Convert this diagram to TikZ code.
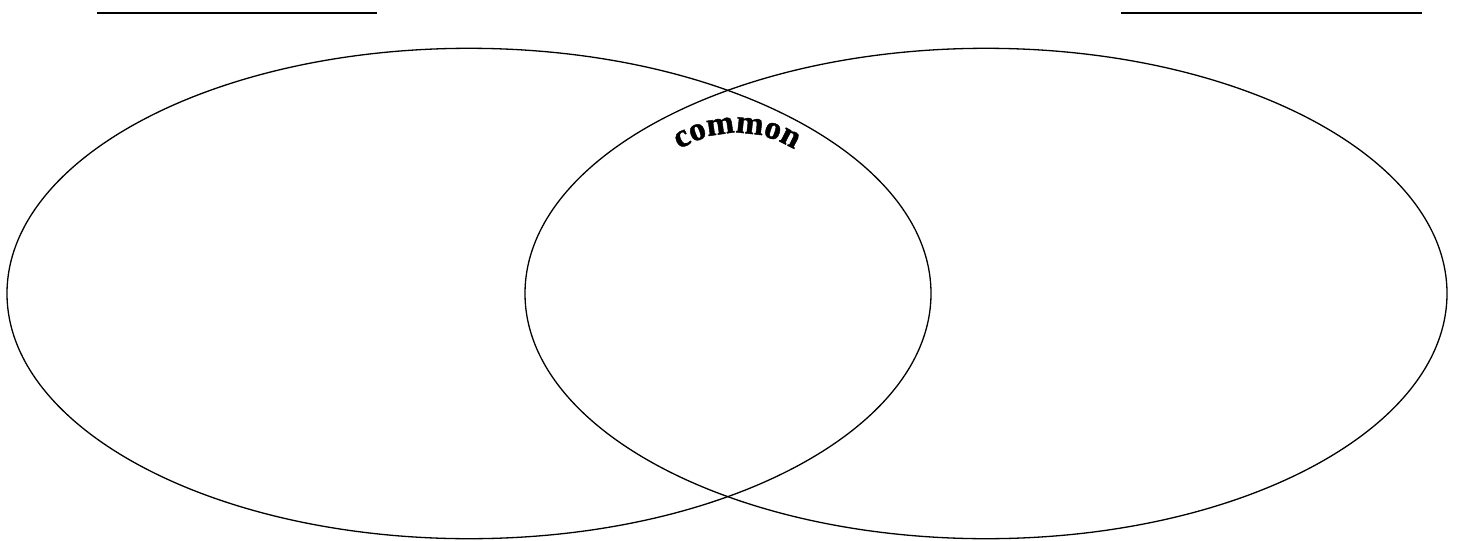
\documentclass[tikz,border=0pt]{standalone}
\usepackage{fontspec}
\setmainfont{Liberation Serif}
\newfontfamily\arcfont[FakeBold=1.3]{Liberation Serif}
\usetikzlibrary{decorations.text}
\begin{document}
\begin{tikzpicture}[x=1pt,y=1pt,
  setline/.style={line width=1.3pt, draw=black},
  nameline/.style={line width=1.8pt, draw=black}]
\useasboundingbox (0,0) rectangle (1457,-541);
\fill[white] (0,0) rectangle (1457,-541);
% name blanks
\coordinate (l1) at (97,-12.7);
\coordinate (l2) at (377,-12.7);
\coordinate (r1) at (1121,-12.7);
\coordinate (r2) at (1422,-12.7);
\draw[nameline] (l1) -- (l2);
\draw[nameline] (r1) -- (r2);
% ellipses
\draw[setline] (469,-293.5) ellipse [x radius=462pt, y radius=245.2pt];
\draw[setline] (986,-293.5) ellipse [x radius=461pt, y radius=245.2pt];
% arched label
\coordinate (arcc) at (737,-241);
\path[decorate, decoration={text along path, text align=center,
  text={|\arcfont\bfseries\fontsize{33}{33}\selectfont|common}}]
  (arcc) ++(130:108pt) arc[start angle=130, end angle=50, radius=108pt];
\end{tikzpicture}
\end{document}
